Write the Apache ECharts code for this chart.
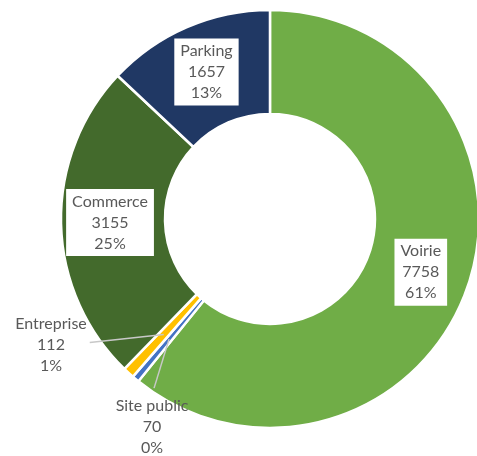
<!DOCTYPE html>
<html><head><meta charset="utf-8">
<script src="https://cdn.jsdelivr.net/npm/echarts@6/dist/echarts.min.js"></script>
<style>html,body{margin:0;padding:0;background:#fff}#c{width:477px;height:456px}</style>
</head><body><div id="c"></div>
<script>
const categories = ['Voirie', 'Site public', 'Entreprise', 'Commerce', 'Parking'];
const values = [7758, 70, 112, 3155, 1657];
const colors = ['#70AD47', '#4472C4', '#FFC000', '#436A2C', '#203864'];
const insideLabelled = ['Voirie', 'Commerce', 'Parking'];

const chart = echarts.init(document.getElementById('c'));
const txt = { fontFamily: 'Lato', fontSize: 16, lineHeight: 21, color: '#595959' };
const fmt = p => p.name + '\n' + p.value + '\n' + p.percent + '%';
const fmtRich = p => '{t|' + p.name + '}\n{t|' + p.value + '}\n{t|' + p.percent + '%}';

const mainData = categories.map((n, i) => ({
  name: n, value: values[i],
  itemStyle: { color: colors[i] },
  label: { show: insideLabelled.includes(n) }
}));
const overlayData = categories.map((n, i) => ({
  name: n, value: values[i],
  label: { show: !insideLabelled.includes(n) },
  labelLine: { show: !insideLabelled.includes(n) }
}));

chart.setOption({
  animation: false,
  series: [
    {
      type: 'pie',
      z: 2,
      center: ['56.6%', '48%'],
      radius: [105, 209],
      startAngle: 90,
      clockwise: true,
      percentPrecision: 0,
      silent: true,
      itemStyle: { borderColor: '#fff', borderWidth: 2.5 },
      label: Object.assign({
        position: 'inside',
        formatter: fmt,
        backgroundColor: '#fff',
        padding: [3, 6, 1, 6]
      }, txt),
      labelLine: { show: false },
      data: mainData
    },
    {
      type: 'pie',
      z: 5,
      center: ['56.6%', '48%'],
      radius: [0, 157],
      startAngle: 90,
      clockwise: true,
      percentPrecision: 0,
      silent: true,
      avoidLabelOverlap: false,
      itemStyle: { color: 'rgba(0,0,0,0)', borderWidth: 0 },
      label: Object.assign({
        position: 'outside',
        formatter: fmtRich,
        rich: { t: Object.assign({ align: 'center' }, txt) }
      }, txt),
      labelLine: { show: true, length: 4, length2: 60, lineStyle: { color: '#C8C8C8', width: 1.5 } },
      labelLayout: function (p) {
        const pts = p.labelLinePoints;
        if (!pts) return {};
        const s = pts[0];
        if (p.dataIndex === 2) {
          return { x: s[0] - 77, y: s[1] + 10, align: 'right', verticalAlign: 'middle',
                   labelLinePoints: [[s[0], s[1]], [s[0] - 74, s[1] + 8]] };
        }
        if (p.dataIndex === 1) {
          return { x: s[0] - 17, y: s[1] + 56, align: 'center', verticalAlign: 'top',
                   labelLinePoints: [[s[0], s[1]], [s[0] - 15, s[1] + 49]] };
        }
        return {};
      },
      data: overlayData
    }
  ]
});
</script>
</body></html>
